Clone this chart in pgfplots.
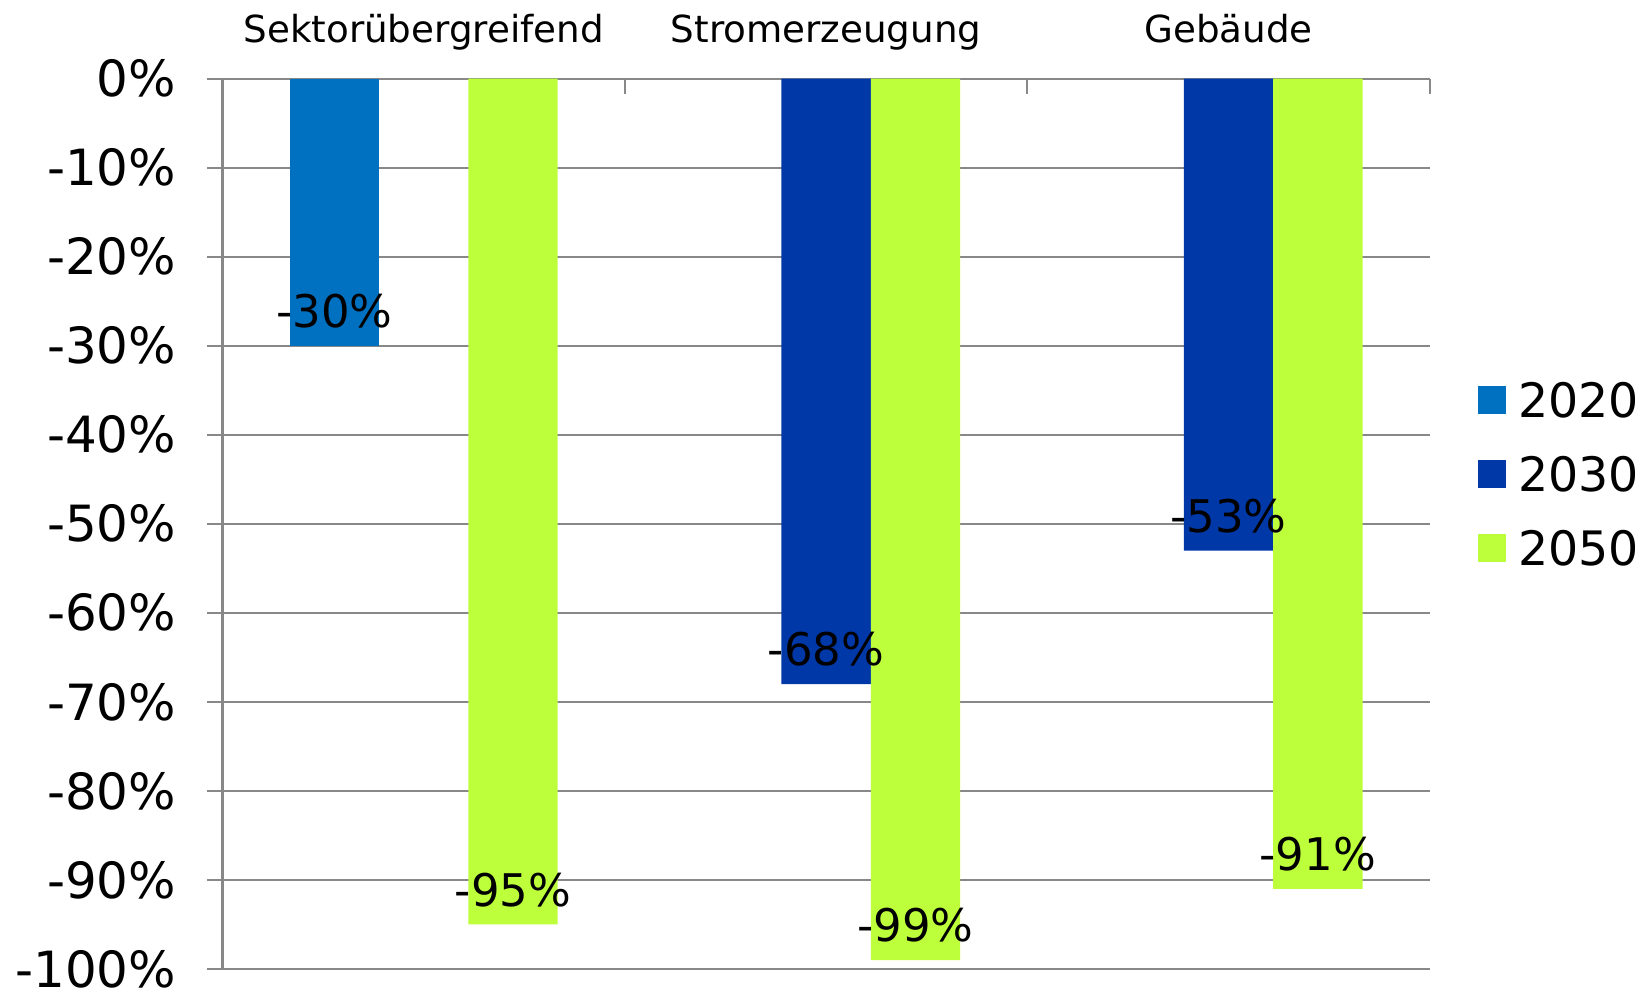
\documentclass[border=0pt]{standalone}
\usepackage{pgfplots}
\pgfplotsset{compat=1.18}
\usepackage{fontspec}
\setmainfont{DejaVu Sans}

\definecolor{c2020}{HTML}{0070C0}
\definecolor{c2030}{HTML}{0038A8}
\definecolor{c2050}{HTML}{BEFF3C}
\definecolor{axgray}{HTML}{888888}

% bar positions: group centre 0,1,2; series offset -0.222 / 0 / +0.222
\pgfplotstableread{
x       y
-0.222  -30
}\tabA
\pgfplotstableread{
x       y
1       -68
2       -53
}\tabB
\pgfplotstableread{
x       y
0.222   -95
1.222   -99
2.222   -91
}\tabC

\begin{document}
\begin{tikzpicture}
\useasboundingbox (-2.225cm,-0.211cm) rectangle (14.235cm,9.689cm);
\begin{axis}[
  at={(0,0)}, anchor=south west,
  scale only axis, width=12.072cm, height=8.902cm,
  xmin=-0.5, xmax=2.5, ymin=-100, ymax=0,
  axis x line*=top, axis y line*=left,
  axis line style={axgray, line width=0.6pt},
  tick style={axgray, line width=0.6pt},
  major tick length=1.5mm,
  xtick align=inside, ytick align=outside,
  xtick={-0.5,0.5,1.5,2.5}, xticklabels={},
  extra x ticks={0,1,2},
  extra x tick labels={Sektorübergreifend,Stromerzeugung,Gebäude},
  extra x tick style={tick style={draw=none}},
  xticklabel style={font=\fontsize{10.6}{12}\selectfont, anchor=base, yshift=3.6mm},
  ytick={-100,-90,...,0},
  yticklabels={-100\%,-90\%,-80\%,-70\%,-60\%,-50\%,-40\%,-30\%,-20\%,-10\%,0\%},
  yticklabel style={font=\fontsize{14.2}{17}\selectfont, anchor=east, xshift=-1.9mm},
  ymajorgrids,
  grid style={axgray, line width=0.6pt},
  bar width=0.222, bar shift=0,
  clip=false,
  every node near coord/.append style={font=\fontsize{12.8}{15}\selectfont, anchor=center, yshift=3.46mm, text=black},
  legend style={at={(1,0.5554)}, anchor=west, xshift=4.8mm, draw=none, fill=none,
    font=\fontsize{13.5}{16}\selectfont, inner sep=0pt, row sep=3.93mm,
    nodes={inner sep=0pt, text height=3.47mm, text depth=0mm},
    /tikz/every odd column/.append style={column sep=1.26mm}},
  legend cell align=left,
]
% bars
\addplot[ybar, fill=c2020, draw=none, forget plot] table {\tabA};
\addplot[ybar, fill=c2030, draw=none, forget plot] table {\tabB};
\addplot[ybar, fill=c2050, draw=none, forget plot] table {\tabC};
% value labels, drawn after all bars so they stay on top
\addplot[draw=none, forget plot,
  nodes near coords={\pgfmathprintnumber[assume math mode=true]{\pgfplotspointmeta}\%}] table {\tabA};
\addplot[draw=none, forget plot,
  nodes near coords={\pgfmathprintnumber[assume math mode=true]{\pgfplotspointmeta}\%}] table {\tabB};
\addplot[draw=none, forget plot,
  nodes near coords={\pgfmathprintnumber[assume math mode=true]{\pgfplotspointmeta}\%}] table {\tabC};
% legend
\addlegendimage{legend image code/.code={\fill[c2020] (0mm,-1.27mm) rectangle (2.6mm,1.33mm);}}
\addlegendentry{2020}
\addlegendimage{legend image code/.code={\fill[c2030] (0mm,-1.27mm) rectangle (2.6mm,1.33mm);}}
\addlegendentry{2030}
\addlegendimage{legend image code/.code={\fill[c2050] (0mm,-1.27mm) rectangle (2.6mm,1.33mm);}}
\addlegendentry{2050}
\end{axis}
\end{tikzpicture}
\end{document}
